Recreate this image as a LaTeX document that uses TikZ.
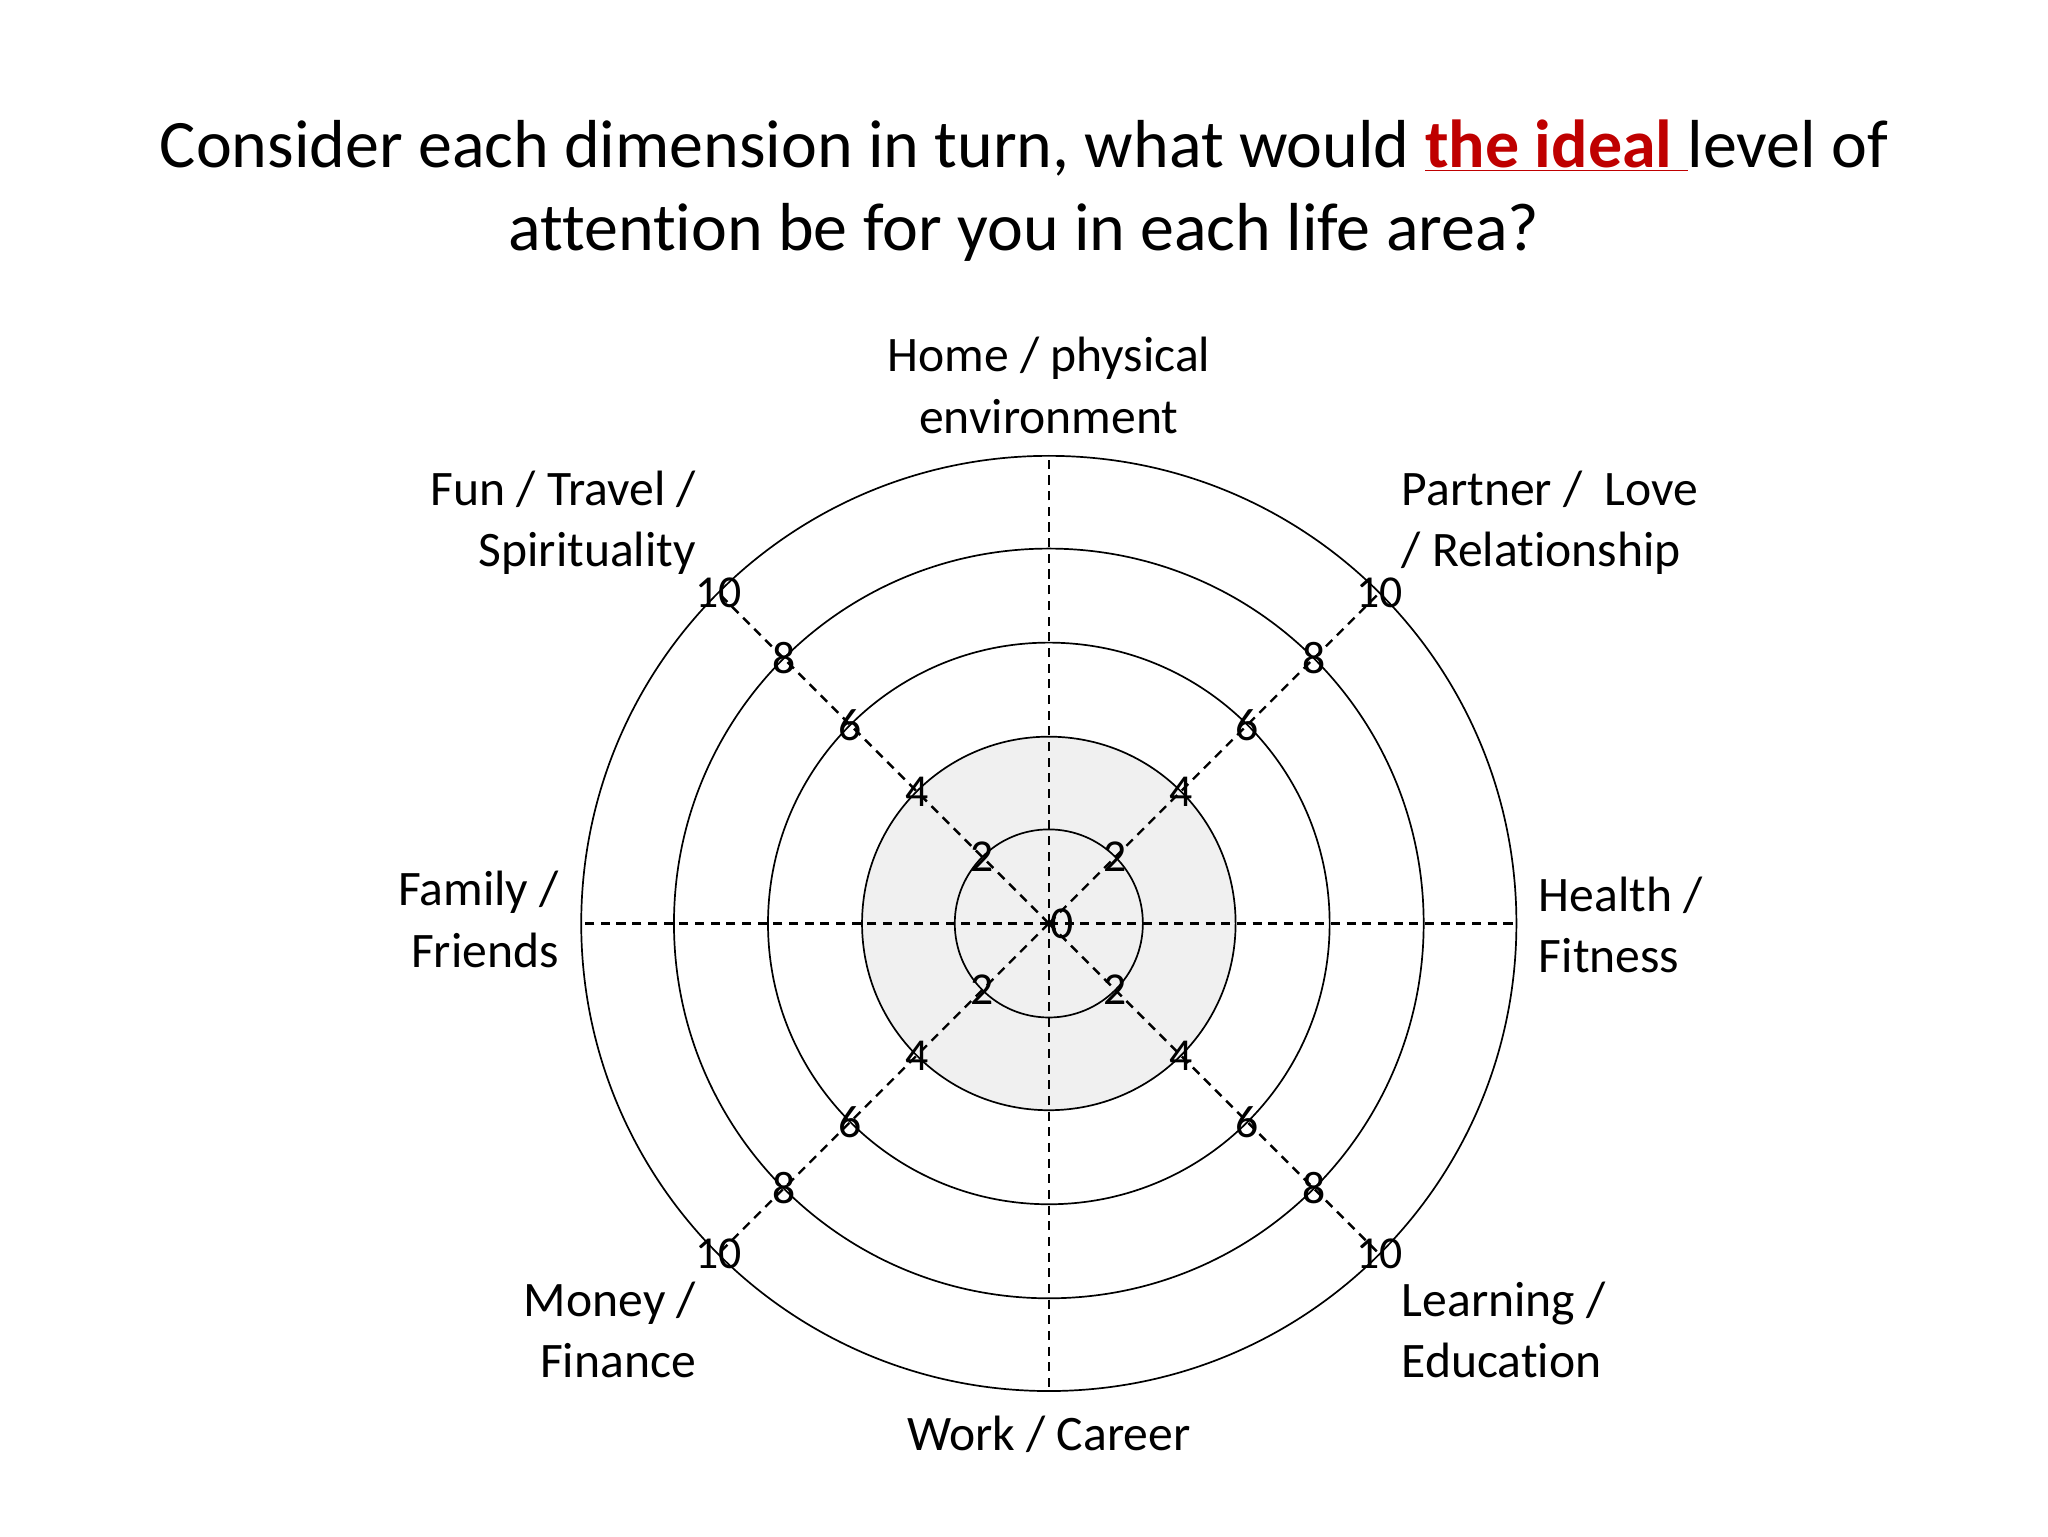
\documentclass[tikz,border=0pt]{standalone}
\usepackage{fontspec}
\setmainfont[Ligatures=NoCommon]{Carlito}
\usetikzlibrary{calc}
\begin{document}
\begin{tikzpicture}[x=1pt,y=-1pt,
 lab/.style={font=\fontsize{38}{47}\selectfont,align=left,inner sep=0},
 num/.style={font=\fontsize{35}{35}\selectfont,inner sep=0,fill=none},
 axis/.style={dash pattern=on 7pt off 5pt,line width=1.8pt}]
\useasboundingbox (0,0) rectangle (1568,1176);
\coordinate (c) at (803,707);
\fill[gray!12] (c) circle (143);
\foreach \r in {72,143,215,287,358} \draw[line width=1.3pt] (c) circle (\r);
\foreach \a in {0,45,...,315} \draw[axis] (c) -- ++(\a:358);
\foreach \a in {45,135,225,315}{
 \foreach \v/\r in {2/72,4/143,6/215,8/287,10/358}
   \node[num] at ($(c)+(\a:\r)$) {\v};}
\node[num] (z) at (813,707) {0};
\node[font=\fontsize{52}{63}\selectfont,align=center] (t) at (784,146) {Consider each dimension in turn, what would \textcolor{red!75!black}{\bfseries\underline{the ideal }}level of\\attention be for you in each life area?};
\node[lab,align=center] (h) at (803,295) {Home / physical\\environment};
\node[lab,anchor=west] (p) at (1073,400) {Partner /\ \ Love\\/ Relationship};
\node[lab,anchor=east,align=right] (f) at (533,400) {Fun / Travel /\\Spirituality};
\node[lab,anchor=west] (he) at (1178,708) {Health /\\Fitness};
\node[lab,anchor=east,align=right] (fa) at (428,704) {Family /\\Friends};
\node[lab,anchor=east,align=right] (m) at (533,1018) {Money /\\Finance};
\node[lab,anchor=west] (l) at (1073,1018) {Learning /\\Education};
\node[lab,align=center] (w) at (803,1098) {Work / Career};
\end{tikzpicture}
\end{document}
